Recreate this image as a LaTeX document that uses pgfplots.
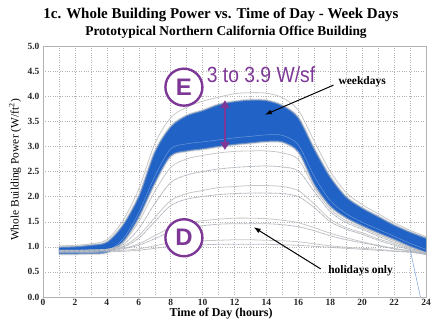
\documentclass[border=0pt]{standalone}
\usepackage{fontspec}
\setmainfont{Liberation Serif}
\newfontfamily\annfont{Liberation Sans}
\usepackage{graphicx}
\usepackage{pgfplots}
\pgfplotsset{compat=1.18}
\usepackage{pgfplotstable}
\usepgfplotslibrary{fillbetween}
\usetikzlibrary{arrows.meta}
\definecolor{bandblue}{RGB}{32,98,198}
\definecolor{curvegray}{RGB}{190,190,190}
\definecolor{annpurple}{RGB}{125,55,150}

\pgfplotstableread{
h U L M1 G1 G2 G3 G4 G5 G6 G7 G8 G9
1 1.00 0.85 0.88 1.02 0.90 0.92 0.93 0.91 0.93 0.92 0.91 0.89
2 1.01 0.85 0.88 1.03 0.90 0.92 0.93 0.91 0.93 0.92 0.91 0.89
3 1.04 0.86 0.89 1.06 0.91 0.93 0.94 0.92 0.93 0.92 0.91 0.89
4 1.10 0.88 0.92 1.14 0.94 0.95 0.95 0.93 0.94 0.93 0.92 0.90
5 1.44 1.08 1.15 1.52 1.08 1.04 1.01 0.99 0.97 0.96 0.93 0.91
6 2.02 1.57 1.68 2.15 1.50 1.36 1.22 1.17 1.06 1.03 0.96 0.93
7 2.90 2.25 2.40 3.05 2.10 1.86 1.58 1.50 1.22 1.16 1.02 0.97
8 3.40 2.80 2.95 3.57 2.58 2.28 1.92 1.82 1.38 1.30 1.08 1.01
9 3.62 2.90 3.05 3.78 2.75 2.43 2.06 1.95 1.47 1.38 1.10 1.03
10 3.72 2.94 3.09 3.90 2.82 2.50 2.12 2.00 1.52 1.42 1.12 1.04
11 3.84 2.99 3.13 3.98 2.87 2.55 2.18 2.04 1.55 1.45 1.13 1.05
12 3.90 3.03 3.17 4.05 2.90 2.58 2.20 2.06 1.57 1.46 1.14 1.05
13 3.93 3.06 3.20 4.07 2.91 2.60 2.22 2.07 1.57 1.46 1.14 1.05
14 3.92 3.09 3.23 4.06 2.91 2.61 2.22 2.07 1.56 1.46 1.13 1.05
15 3.82 3.08 3.22 3.97 2.87 2.59 2.20 2.06 1.53 1.44 1.12 1.04
16 3.58 2.88 3.03 3.72 2.74 2.51 2.12 2.00 1.48 1.40 1.10 1.03
17 2.96 2.23 2.40 3.10 2.18 2.10 1.85 1.78 1.38 1.32 1.06 1.01
18 2.40 1.80 1.92 2.50 1.75 1.70 1.55 1.50 1.27 1.22 1.02 0.99
19 2.00 1.57 1.66 2.08 1.52 1.48 1.38 1.35 1.18 1.14 0.99 0.97
20 1.78 1.41 1.49 1.84 1.38 1.35 1.28 1.25 1.10 1.08 0.97 0.95
21 1.61 1.27 1.35 1.66 1.24 1.21 1.16 1.13 1.03 1.02 0.95 0.93
22 1.44 1.14 1.21 1.48 1.12 1.09 1.06 1.03 0.97 0.96 0.92 0.91
23 1.30 1.00 1.07 1.33 0.99 0.97 0.95 0.94 0.92 0.91 0.90 0.89
24 1.18 0.88 0.95 1.20 0.88 0.88 0.87 0.86 0.86 0.85 0.85 0.85
}\data

\pgfplotsset{
  graycurve/.style={draw=curvegray, line width=0.8pt, opacity=0.85, smooth, tension=0.5},
  speck/.style={draw=bandblue!70, line width=0.5pt, dash pattern=on 1pt off 4pt, opacity=0.6, smooth, tension=0.5},
}

\begin{document}
\begin{tikzpicture}
\begin{axis}[
  at={(0,0)}, anchor=south west, scale only axis,
  width=383bp, height=251bp,
  xmin=0, xmax=24, ymin=0, ymax=5,
  xtick={0,2,...,24}, minor x tick num=1,
  ytick={0,0.5,1,1.5,2,2.5,3,3.5,4,4.5,5},
  grid=both,
  major grid style={dotted, gray!60, line width=0.4pt},
  minor grid style={dotted, gray!60, line width=0.4pt},
  axis line style={gray!60, line width=0.6pt},
  tick style={draw=none},
  /pgf/number format/assume math mode=true,
  ticklabel style={font=\bfseries\fontsize{9.5}{10}\selectfont, text=black!85},
  xticklabel style={yshift=1bp},
  yticklabel style={/pgf/number format/.cd, fixed, fixed zerofill, precision=1},
  xlabel={Time of Day (hours)},
  ylabel={Whole Building Power (W/ft\textsuperscript{2})},
  xlabel style={font=\bfseries\fontsize{12}{12}\selectfont, at={(rel axis cs:0.465,-0.066)}, anchor=center},
  ylabel style={font=\fontsize{11.5}{12}\selectfont, at={(rel axis cs:-0.073,0.506)}, anchor=center},
]
% weekday band
\addplot[name path=U, draw=none, smooth, tension=0.5] table[x=h, y=U]{\data};
\addplot[name path=L, draw=none, smooth, tension=0.5] table[x=h, y=L]{\data};
\addplot[fill=bandblue, draw=none] fill between[of=U and L];
\addplot[graycurve, line width=2pt, opacity=0.5] table[x=h, y=U]{\data};
\addplot[graycurve, line width=2pt, opacity=0.5] table[x=h, y=L]{\data};
\addplot[draw=bandblue!45!white, line width=0.5pt, opacity=0.6, smooth, tension=0.5] table[x=h, y=M1]{\data};
% outlier / holiday days
\addplot[graycurve] table[x=h, y=G1]{\data};
\addplot[graycurve] table[x=h, y=G2]{\data};
\addplot[graycurve] table[x=h, y=G3]{\data};
\addplot[graycurve] table[x=h, y=G4]{\data};
\addplot[graycurve] table[x=h, y=G5]{\data};
\addplot[graycurve] table[x=h, y=G6]{\data};
\addplot[graycurve] table[x=h, y=G7]{\data};
\addplot[graycurve] table[x=h, y=G8]{\data};
\addplot[graycurve] table[x=h, y=G9]{\data};
\addplot[speck] table[x=h, y=G3]{\data};
\addplot[speck] table[x=h, y=G5]{\data};
\addplot[speck] table[x=h, y=G7]{\data};
\addplot[speck] table[x=h, y=G9]{\data};
\addplot[draw=bandblue!60, line width=0.5pt] coordinates {(23.0,0.95) (23.65,0)};

% annotations
\node[font=\bfseries\fontsize{11.5}{12}\selectfont] at (axis cs:20.0,4.28) {weekdays};
\draw[-{Latex[length=7bp,width=5bp]}, line width=1pt] (axis cs:18.2,4.22) -- (axis cs:13.9,3.63);
\node[font=\bfseries\fontsize{11.5}{12}\selectfont] at (axis cs:19.9,0.52) {holidays only};
\draw[-{Latex[length=7bp,width=5bp]}, line width=1pt] (axis cs:17.4,0.56) -- (axis cs:13.2,1.39);

\draw[annpurple, line width=2.4pt, fill=white] (axis cs:8.83,4.18) circle[radius=18.5bp];
\node[annpurple, font=\annfont\bfseries\fontsize{24}{24}\selectfont] at (axis cs:8.83,4.18) {E};
\draw[annpurple, line width=2.4pt, fill=white] (axis cs:8.83,1.18) circle[radius=18.5bp];
\node[annpurple, font=\annfont\bfseries\fontsize{24}{24}\selectfont] at (axis cs:8.83,1.18) {D};
\node[annpurple, font=\annfont\fontsize{22}{22}\selectfont, inner sep=1pt] at (axis cs:13.66,4.42) {\scalebox{0.88}[1]{3 to 3.9 W/sf}};
\draw[annpurple, line width=2.5pt, {Triangle[length=8bp,width=9bp]}-{Triangle[length=8bp,width=9bp]}] (axis cs:11.4,2.93) -- (axis cs:11.4,3.92);
\end{axis}
\node[font=\bfseries\fontsize{15}{16}\selectfont] at (178bp,282bp) {1c. Whole Building Power vs. Time of Day - Week Days};
\node[font=\bfseries\fontsize{13.5}{14}\selectfont] at (183bp,265bp) {Prototypical Northern California Office Building};
\pgfresetboundingbox
\path[use as bounding box] (-43bp,-33bp) rectangle (392bp,297bp);
\end{tikzpicture}
\end{document}
